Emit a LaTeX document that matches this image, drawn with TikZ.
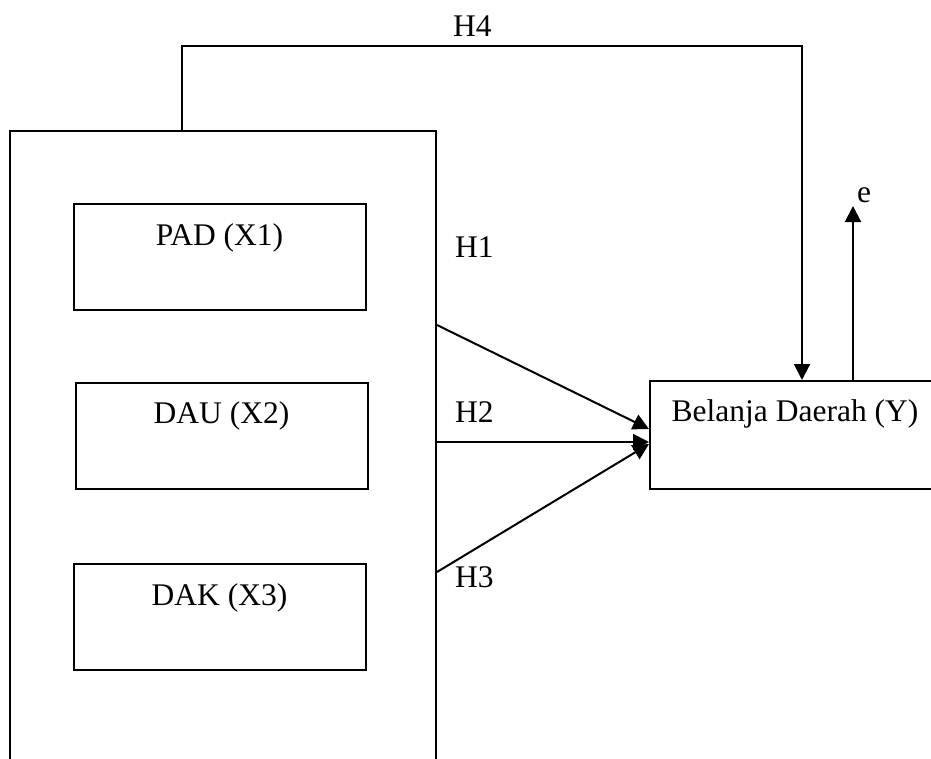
\documentclass[tikz,border=0pt]{standalone}
\usepackage{fontspec}
\setmainfont{Liberation Serif}
\usetikzlibrary{arrows.meta,calc}

\begin{document}
\begin{tikzpicture}[
  x=1pt, y=-1pt,
  every node/.style={font=\fontsize{31.5}{37}\selectfont},
  varbox/.style={draw, line width=2pt, inner sep=0pt, minimum width=292pt,
                 text height=41pt, text depth=65pt},
  hlabel/.style={anchor=base west, inner sep=0pt},
  link/.style={line width=2pt},
  >={Triangle[length=16pt,width=16pt]},
]
  \useasboundingbox (0,0) rectangle (931,758);
  \clip (0,0) rectangle (931,758);

  % independent variables
  \node[draw, line width=2pt, minimum width=426pt, minimum height=660pt,
        inner sep=0pt] (group) at (223,461) {};
  \node[varbox] (pad) at (219.5,257) {PAD (X1)};
  \node[varbox] (dau) at (221.5,435.5) {DAU (X2)};
  \node[varbox] (dak) at (219.5,617) {DAK (X3)};

  % dependent variable
  \node[varbox, minimum width=290pt, text height=40pt, text depth=68pt]
    (belanja) at (795,380) [anchor=north] {Belanja Daerah (Y)};

  % connector end points
  \coordinate (h1start) at (group.east |- 0,325);
  \coordinate (h2start) at (group.east |- 0,442);
  \coordinate (h3start) at (group.east |- 0,572);
  \coordinate (h1end) at (belanja.west |- 0,429);
  \coordinate (h2end) at (belanja.west |- 0,442);
  \coordinate (h3end) at (belanja.west |- 0,444);
  \coordinate (h4start) at (group.north -| 182,0);
  \coordinate (h4top) at (182,46);
  \coordinate (h4end) at ($(belanja.north)+(7,0)$);
  \coordinate (eout) at ($(belanja.north)+(58,0)$);
  \coordinate (etip) at (853,206);

  \draw[link,->] (h1start) -- (h1end);
  \draw[link,->] (h2start) -- (h2end);
  \draw[link,->] (h3start) -- (h3end);
  \draw[link,->] (h4start) -- (h4top) -| (h4end);
  \draw[link,->] (eout) -- (etip);

  % labels
  \node[hlabel] (lh1) at (455,257) {H1};
  \node[hlabel] (lh2) at (455,422) {H2};
  \node[hlabel] (lh3) at (455,587) {H3};
  \node[hlabel] (lh4) at (453,36) {H4};
  \node[hlabel] (le) at (857,202) {e};
\end{tikzpicture}
\end{document}
